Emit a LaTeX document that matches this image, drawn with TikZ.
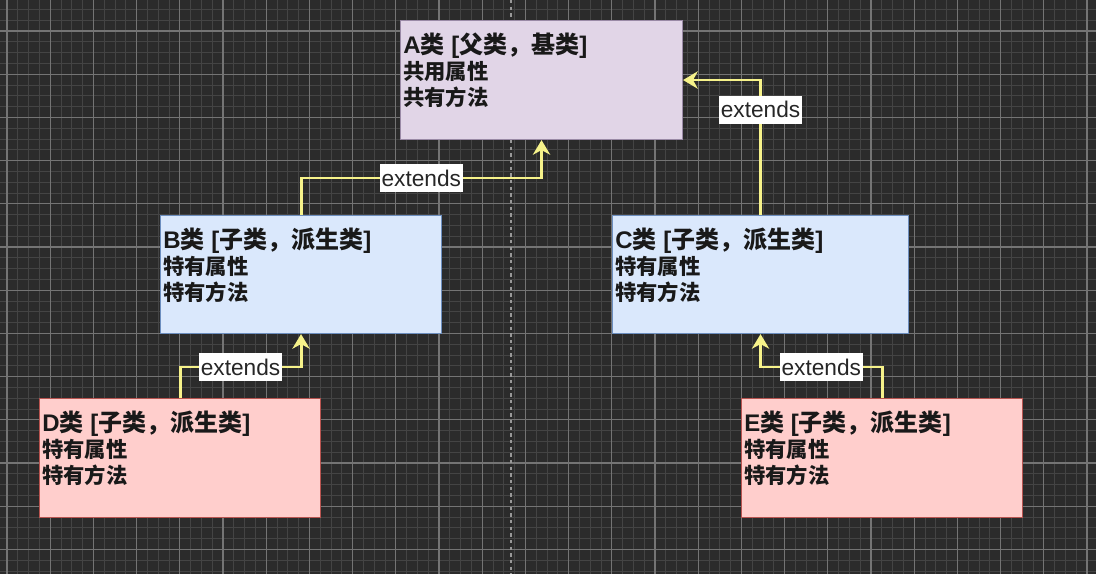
\documentclass[tikz,border=0pt]{standalone}
\usepackage{fontspec}
\newfontfamily\cjk{Noto Sans CJK SC}
\newfontfamily\lat{Liberation Sans}
\usetikzlibrary{shapes,arrows.meta}
\definecolor{bgc}{HTML}{2B2B2B}
\definecolor{minorc}{HTML}{444444}
\definecolor{majorc}{HTML}{747474}
\definecolor{afill}{HTML}{E1D5E7}
\definecolor{aline}{HTML}{9A8AA6}
\definecolor{bfill}{HTML}{DAE8FC}
\definecolor{bline}{HTML}{6C8EBF}
\definecolor{dfill}{HTML}{FFCECC}
\definecolor{dline}{HTML}{B85450}
\definecolor{arrc}{HTML}{F6F28A}
\tikzstyle{cls}=[rectangle,draw,line width=0.8pt,inner sep=0pt,anchor=north west]
\tikzstyle{txt}=[anchor=north west,inner sep=0pt,align=left,text=black!90,font=\cjk\bfseries\fontsize{16pt}{19.5pt}\selectfont]
\tikzstyle{ext}=[draw=arrc,line width=2.2pt,-{Stealth[length=11pt,width=13pt,inset=3.5pt]}]
\tikzstyle{lb}=[fill=white,inner sep=1.5pt,minimum height=21pt,text=black!85,font=\lat\fontsize{17pt}{17pt}\selectfont]
% class title: letter, then names in brackets
\newcommand{\ttl}[2]{{\fontsize{18pt}{19.5pt}\selectfont{\lat\bfseries #1}类{\lat\bfseries\ [}#2{\lat\bfseries ]}}}

\begin{document}
\begin{tikzpicture}[x=0.75pt,y=-0.75pt]
\useasboundingbox (0,0) rectangle (1096,574);
% background grid
\fill[bgc] (0,0) rectangle (1096,574);
\foreach \i in {0,...,101} \draw[minorc,line width=0.6pt] ({-3.8+10.8*\i},0) -- ({-3.8+10.8*\i},574);
\foreach \j in {0,...,53} \draw[minorc,line width=0.6pt] (0,{-1.4+10.8*\j}) -- (1096,{-1.4+10.8*\j});
\foreach \i in {0,...,25} \draw[majorc,line width=0.8pt] ({7+43.2*\i},0) -- ({7+43.2*\i},574);
\foreach \j in {-1,...,12} \draw[majorc,line width=0.8pt] (0,{31+43.2*\j}) -- (1096,{31+43.2*\j});
\draw[gray!80,line width=1.1pt,dash pattern=on 2.5pt off 2.5pt] (511,0) -- (511,574);

% classes
\node[cls,fill=afill,draw=aline,minimum width=211.5pt,minimum height=89.25pt] (a) at (400,20) {};
\node[cls,fill=bfill,draw=bline,minimum width=210.75pt,minimum height=88.5pt] (b) at (160,215) {};
\node[cls,fill=bfill,draw=bline,minimum width=222pt,minimum height=88.5pt] (c) at (612,215) {};
\node[cls,fill=dfill,draw=dline,minimum width=210.75pt,minimum height=89.25pt] (d) at (39,398) {};
\node[cls,fill=dfill,draw=dline,minimum width=210.75pt,minimum height=89.25pt] (e) at (741,398) {};

\node[txt] (at) at ([shift={(3,13)}]a.north west) {\ttl{A}{父类，基类}\\共用属性\\共有方法};
\node[txt] (bt) at ([shift={(3,13)}]b.north west) {\ttl{B}{子类，派生类}\\特有属性\\特有方法};
\node[txt] (ct) at ([shift={(3,13)}]c.north west) {\ttl{C}{子类，派生类}\\特有属性\\特有方法};
\node[txt] (dt) at ([shift={(3,13)}]d.north west) {\ttl{D}{子类，派生类}\\特有属性\\特有方法};
\node[txt] (et) at ([shift={(3,13)}]e.north west) {\ttl{E}{子类，派生类}\\特有属性\\特有方法};

% inheritance
\draw[ext] (b.north) -- ++(0,-37) -| node[lb,pos=0.25]{extends} (a.south);
\draw[ext] (c.north) |- node[lb,pos=0.39]{extends} (a.east);
\draw[ext] (d.north) -- ++(0,-31) -| node[lb,pos=0.25]{extends} (b.south);
\draw[ext] (e.north) -- ++(0,-31) -| node[lb,pos=0.25]{extends} (c.south);
\end{tikzpicture}
\end{document}
